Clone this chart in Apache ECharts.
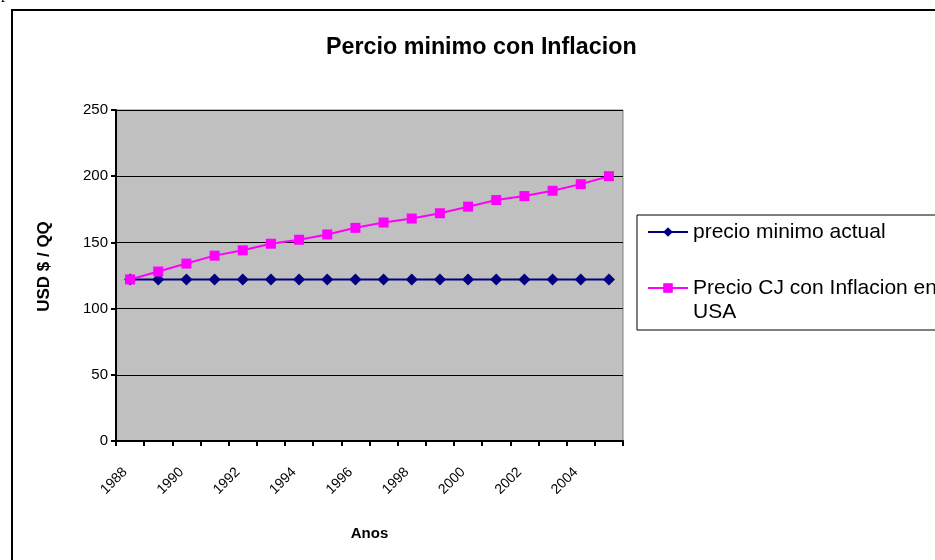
<!DOCTYPE html>
<html>
<head>
<meta charset="utf-8">
<script src="https://cdn.jsdelivr.net/npm/echarts@6/dist/echarts.min.js"></script>
<style>
html,body{margin:0;padding:0;background:#fff;}
#chart{width:935px;height:560px;}
</style>
</head>
<body>
<div id="chart"></div>
<script>
var years = ['1988','1989','1990','1991','1992','1993','1994','1995','1996','1997','1998','1999','2000','2001','2002','2003','2004','2005'];
var precioMinimo = [122,122,122,122,122,122,122,122,122,122,122,122,122,122,122,122,122,122];
var precioInflacion = [122,128,134,140,144,149,152,156,161,165,168,172,177,182,185,189,194,200];
var yTicks = [0,50,100,150,200,250];
var seriesNames = ['precio minimo actual', 'Precio CJ con Inflacion en USA'];

var chart = echarts.init(document.getElementById('chart'));
var FONT = 'Liberation Sans, Arial, sans-serif';
chart.setOption({
  backgroundColor: '#ffffff',
  animation: false,
  title: {
    text: 'Percio minimo con Inflacion',
    left: 321,
    top: 31,
    textStyle: { fontFamily: FONT, fontSize: 23.3, fontWeight: 'bold', color: '#000' }
  },
  graphic: [
    { type: 'rect', shape: { x: 12, y: 10, width: 1000, height: 600 },
      style: { fill: 'none', stroke: '#000', lineWidth: 2 }, silent: true },
    { type: 'text', left: 1, top: -14,
      style: { text: 'p', font: '16px "Liberation Serif", serif', fill: '#000' } }
  ],
  legend: {
    orient: 'vertical',
    left: 637,
    top: 215,
    padding: [5, 30, 6, 10],
    itemGap: 8,
    itemWidth: 40,
    itemHeight: 12,
    borderColor: '#000',
    borderWidth: 1,
    backgroundColor: '#fff',
    textStyle: { fontFamily: FONT, fontSize: 21, color: '#000', lineHeight: 24 },
    formatter: function (name) {
      if (name === seriesNames[1]) {
        return ' \nPrecio CJ con Inflacion en\nUSA';
      }
      return name;
    },
    data: seriesNames
  },
  grid: { left: 116, right: 312, top: 110, bottom: 119, show: true, backgroundColor: '#C0C0C0', borderColor: '#808080', borderWidth: 1 },
  xAxis: {
    type: 'category',
    data: years,
    boundaryGap: true,
    name: 'Anos',
    nameLocation: 'middle',
    nameGap: 85,
    nameTextStyle: { fontFamily: FONT, fontSize: 15, fontWeight: 'bold', color: '#000' },
    axisLine: { lineStyle: { color: '#000', width: 2 } },
    axisTick: { show: true, alignWithLabel: false, interval: 0, length: 5, lineStyle: { color: '#000', width: 2 } },
    axisLabel: { interval: 1, rotate: 45, margin: 24, padding: [0, 7, 0, 0], fontFamily: FONT, fontSize: 14, color: '#000' },
    splitLine: { show: false }
  },
  yAxis: {
    type: 'value',
    min: yTicks[0],
    max: yTicks[yTicks.length - 1],
    interval: 50,
    name: 'USD $ / QQ',
    nameLocation: 'middle',
    nameGap: 63,
    nameTextStyle: { fontFamily: FONT, fontSize: 17, fontWeight: 'bold', color: '#000', padding: [0, 0, 0, 18] },
    axisLine: { show: true, lineStyle: { color: '#000', width: 2 } },
    axisTick: { show: true, length: 5, lineStyle: { color: '#000', width: 2 } },
    axisLabel: { margin: 8, fontFamily: FONT, fontSize: 15, color: '#000' },
    splitLine: { show: true, lineStyle: { color: '#000', width: 1 } }
  },
  series: [
    {
      name: seriesNames[0],
      type: 'line',
      data: precioMinimo,
      symbol: 'diamond',
      symbolSize: 12,
      itemStyle: { color: '#000080' },
      lineStyle: { color: '#000080', width: 2 }
    },
    {
      name: seriesNames[1],
      type: 'line',
      data: precioInflacion,
      symbol: 'rect',
      symbolSize: 10,
      itemStyle: { color: '#FF00FF' },
      lineStyle: { color: '#FF00FF', width: 2 }
    }
  ]
});
</script>
</body>
</html>
